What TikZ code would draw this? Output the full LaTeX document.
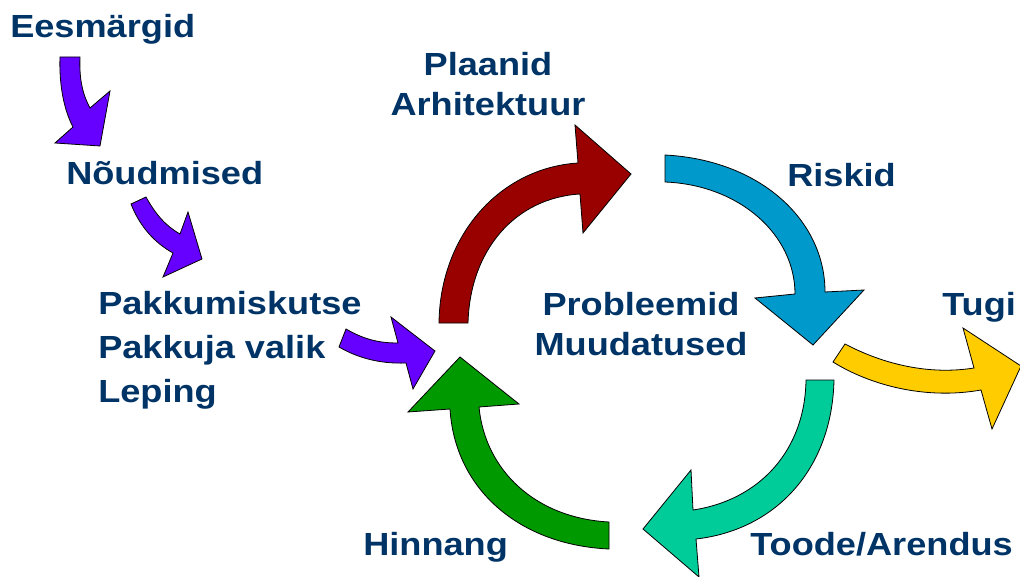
\documentclass[tikz,border=0pt]{standalone}
\usepackage{fontspec}
\setmainfont{Liberation Sans}[FakeStretch=1.13]
\definecolor{navy}{RGB}{0,51,102}
\definecolor{violet}{RGB}{102,0,255}
\definecolor{maroon}{RGB}{153,0,0}
\definecolor{sky}{RGB}{0,153,204}
\definecolor{amber}{RGB}{255,204,0}
\definecolor{jade}{RGB}{0,204,153}
\definecolor{leaf}{RGB}{0,153,0}
\begin{document}
\begin{tikzpicture}[x=.75pt,y=-.75pt,
 every node/.style={font=\fontsize{24}{30}\selectfont\bfseries,text=navy,inner sep=0pt},
 tag/.style={anchor=base west},
 stack/.style={anchor=base,align=center},
 block/.style={draw=black,line width=.6pt,line join=miter}]
 \path[use as bounding box] (0,0) rectangle (1020,577);
 % Lead-in steps on the left (multi-line nodes sit on their last baseline).
 \node[tag] (goals) at (10,38) {Eesmärgid};
 \node[tag] (reqs) at (66,185) {Nõudmised};
 \node[anchor=base west,align=left,font=\fontsize{24}{33}\selectfont\bfseries]
      (tender) at (98,402) {Pakkumiskutse\\Pakkuja valik\\Leping};
 \filldraw[block,fill=violet] (60,57) -- (80,57) .. controls (79,80) and (83,95) .. (90,108)
   -- (110,91) -- (100,146) -- (55,143) -- (73,127) .. controls (64,110) and (59,85) .. (60,57) -- cycle;
 \filldraw[block,fill=violet] (131,204) -- (146,197) .. controls (156,215) and (166,226) .. (180,234)
   -- (188,212) -- (202,259) -- (163,277) -- (173,253) .. controls (155,243) and (140,227) .. (131,204) -- cycle;
 \filldraw[block,fill=violet] (346,329) .. controls (365,340) and (380,343) .. (398,343)
   -- (391,317) -- (435,351) -- (413,389) -- (406,363) .. controls (380,364) and (358,358) .. (339,347) -- cycle;
 % The cycle.
 \node[stack] (plans) at (488,116) {Plaanid\\Arhitektuur};
 \node[tag] (risks) at (787,187) {Riskid};
 \node[stack] (issues) at (641,355) {Probleemid\\Muudatused};
 \node[tag] (support) at (942,315) {Tugi};
 \node[tag] (review) at (363,555) {Hinnang};
 \node[tag] (product) at (750,555) {Toode/Arendus};
 \filldraw[block,fill=maroon] (439,323) -- (468,323) .. controls (470,250) and (515,198) .. (580,194)
   -- (583,233) -- (631,174) -- (575,125) -- (578,163) .. controls (500,168) and (440,235) .. (439,323) -- cycle;
 \filldraw[block,fill=sky] (665,155) .. controls (760,160) and (825,220) .. (825,292)
   -- (864,290) -- (813,345) -- (755,298) -- (795,294) .. controls (795,235) and (740,185) .. (665,182) -- cycle;
 \filldraw[block,fill=amber] (845,344) .. controls (885,365) and (930,375) .. (974,368)
   -- (963,328) -- (1021,366) -- (992,429) -- (981,390) .. controls (925,400) and (870,385) .. (833,362) -- cycle;
 \filldraw[block,fill=jade] (806,380) -- (834,380) .. controls (832,470) and (775,530) .. (696,539)
   -- (699,577) -- (643,529) -- (691,470) -- (693,510) .. controls (760,500) and (805,450) .. (806,380) -- cycle;
 \filldraw[block,fill=leaf] (609,522) -- (609,549) .. controls (520,545) and (455,490) .. (450,409)
   -- (408,412) -- (460,357) -- (519,404) -- (479,407) .. controls (485,470) and (535,518) .. (609,522) -- cycle;
\end{tikzpicture}
\end{document}
